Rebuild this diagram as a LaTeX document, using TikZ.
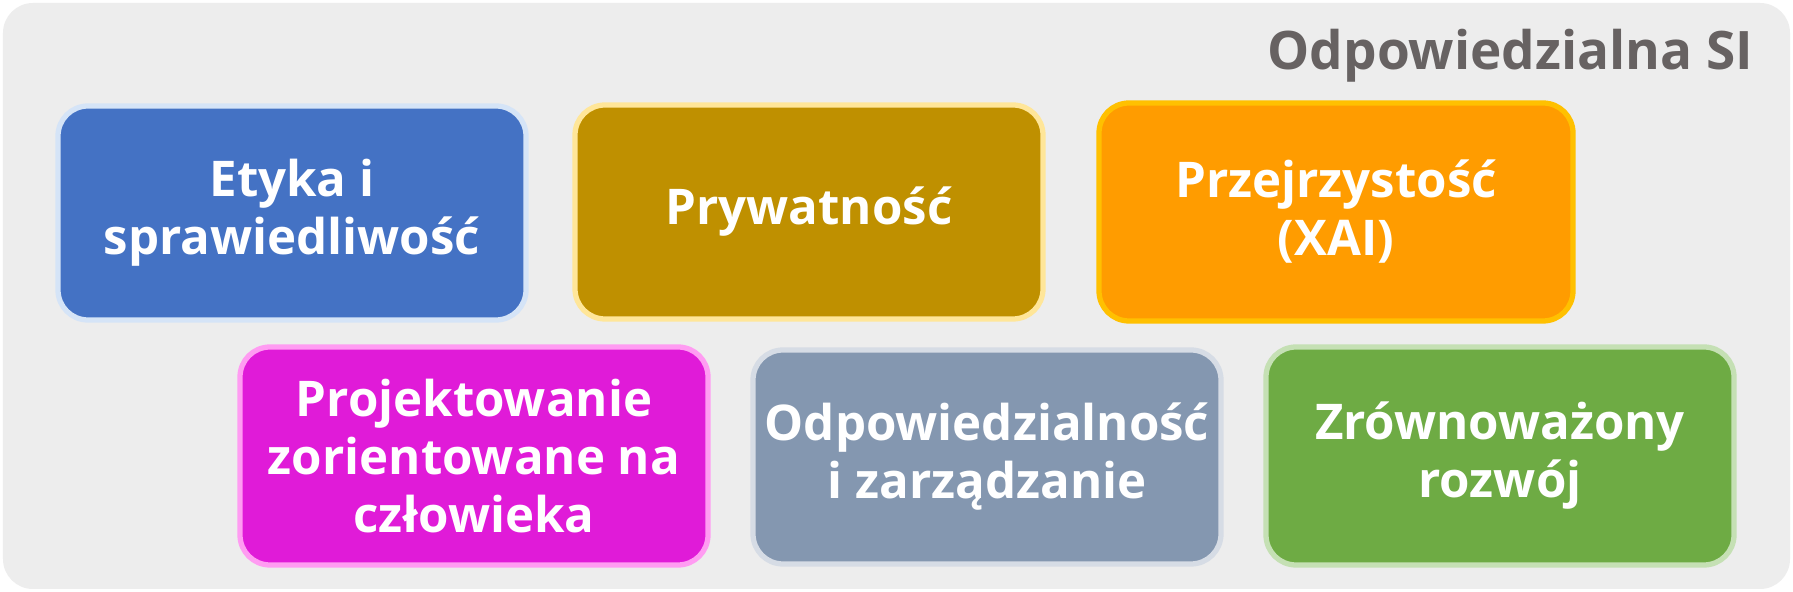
\documentclass[tikz,border=0pt]{standalone}
\usepackage{fontspec}
\setmainfont{Open Sans}
\definecolor{bgGray}{HTML}{EDEDED}
\definecolor{titleGray}{HTML}{676262}
\definecolor{etykaFill}{HTML}{4472C4}
\definecolor{etykaLine}{HTML}{D5E4F7}
\definecolor{prywFill}{HTML}{BF9000}
\definecolor{prywLine}{HTML}{FFE699}
\definecolor{przejFill}{HTML}{FF9C00}
\definecolor{przejLine}{HTML}{FFC000}
\definecolor{projFill}{HTML}{E01BD8}
\definecolor{projLine}{HTML}{FF9CF2}
\definecolor{odpFill}{HTML}{8497B0}
\definecolor{odpLine}{HTML}{D6DCE5}
\definecolor{zrowFill}{HTML}{6EAB44}
\definecolor{zrowLine}{HTML}{C5E0B4}

\begin{document}
\begin{tikzpicture}[x=0.1mm, y=-0.1mm,
  area/.style = {fill=bgGray, rounded corners=30*0.1mm},
  pillar/.style = {rounded corners=30*0.1mm, line width=1.5pt,
    minimum width=468*0.1mm, minimum height=214*0.1mm, align=center,
    text=white, font=\fontsize{14}{16.5}\selectfont\bfseries},
  heading/.style = {anchor=base east, inner sep=0pt, text=titleGray,
    font=\fontsize{15.1}{18}\selectfont\bfseries}]
  % canvas
  \useasboundingbox (0,0) rectangle (1793,592);
  \fill[white] (0,0) rectangle (1793,592);
  \path[area] (3,3) rectangle (1790,589);
  \node[heading] (title) at (1754,70) {Odpowiedzialna SI};
  % top row
  \node[pillar, fill=etykaFill, draw=etykaLine] (etyka) at (292,213)
    {Etyka i\\sprawiedliwość};
  \node[pillar, fill=prywFill, draw=prywLine] (prywatnosc) at (809,212)
    {Prywatność};
  \node[pillar, fill=przejFill, draw=przejLine, minimum width=474*0.1mm,
    minimum height=218*0.1mm] (przejrzystosc) at (1336,212)
    {Przejrzystość\\(XAI)};
  % bottom row
  \node[pillar, fill=projFill, draw=projLine, minimum height=218*0.1mm] (projektowanie) at (474,456)
    {Projektowanie\\zorientowane na\\człowieka};
  \node[pillar, fill=odpFill, draw=odpLine] (odpowiedzialnosc) at (987,457)
    {Odpowiedzialność\\i zarządzanie};
  \node[pillar, fill=zrowFill, draw=zrowLine, minimum height=218*0.1mm] (zrownowazony) at (1500,456)
    {Zrównoważony\\rozwój};
\end{tikzpicture}
\end{document}
